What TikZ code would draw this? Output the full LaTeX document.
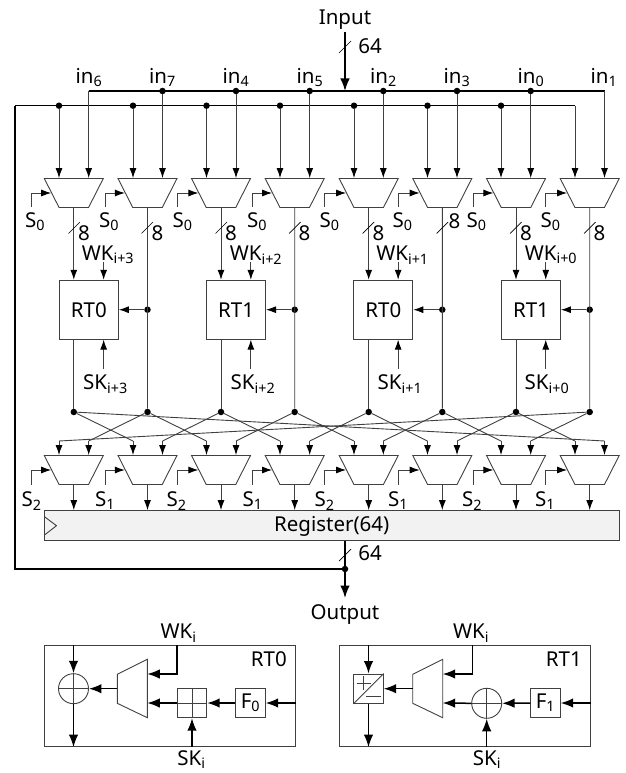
\documentclass[tikz,border=0pt]{standalone}
\usepackage{fontspec}
\setmainfont{Noto Sans}
\usetikzlibrary{arrows.meta, shapes.geometric}
\definecolor{wirecol}{gray}{0.25}
\tikzset{
    wire/.style    = {draw=wirecol, line width=0.9pt, -{Latex[length=10pt, width=7pt, color=black]}},
    plain/.style   = {draw=wirecol, line width=0.9pt},
    bus/.style     = {draw=black, line width=1.5pt},
    busarrow/.style= {bus, -{Latex[length=12.5pt, width=9.5pt]}},
    tick/.style    = {draw=black, line width=0.7pt},
    muxbox/.style  = {trapezium, trapezium stretches=true, trapezium angle=63.43, shape border rotate=180,
                      draw=wirecol, line width=0.9pt, inner sep=0pt, text width=1pt, text height=1pt, text depth=0pt,
                      minimum width=59pt, minimum height=29pt},
    dot/.style     = {circle, fill=black, inner sep=0pt, minimum size=6.5pt},
    rtbox/.style   = {draw=wirecol, line width=0.9pt, minimum width=59pt, minimum height=59pt, font=\fontsize{20.5}{21}\selectfont},
    smallbox/.style= {draw=wirecol, line width=0.9pt, minimum width=29.5pt, minimum height=29.5pt, inner sep=0pt, font=\fontsize{20.5}{21}\selectfont},
    outer/.style   = {draw=wirecol, line width=0.9pt, minimum width=250.7pt, minimum height=101.7pt},
    opcircle/.style= {circle, draw=wirecol, line width=0.9pt, minimum size=30pt, inner sep=0pt},
    beschr/.style  = {font=\fontsize{20.5}{21}\selectfont, inner sep=0pt}
}
\begin{document}
\begin{tikzpicture}[x=1pt, y=-1pt]
    \useasboundingbox (0,0) rectangle (625,773);

    % --- Input ---
    \node[beschr] (input) at (345,19.7) {Input};
    \node[beschr] (w64a) at (370,46) {64};
    \node[beschr] (in6) at (89,77.5) {in\textsubscript{6}};
    \node[beschr] (in7) at (162.5,77.5) {in\textsubscript{7}};
    \node[beschr] (in4) at (236,77.5) {in\textsubscript{4}};
    \node[beschr] (in5) at (310,77.5) {in\textsubscript{5}};
    \node[beschr] (in2) at (383.5,77.5) {in\textsubscript{2}};
    \node[beschr] (in3) at (457,77.5) {in\textsubscript{3}};
    \node[beschr] (in0) at (531,77.5) {in\textsubscript{0}};
    \node[beschr] (in1) at (604,77.5) {in\textsubscript{1}};

    % --- upper multiplexers ---
    \node[muxbox] (m1) at (73.8,193) {};
    \node[muxbox] (m2) at (147.5,193) {};
    \node[muxbox] (m3) at (221,193) {};
    \node[muxbox] (m4) at (294.7,193) {};
    \node[muxbox] (m5) at (368.7,193) {};
    \node[muxbox] (m6) at (442.3,193) {};
    \node[muxbox] (m7) at (516,193) {};
    \node[muxbox] (m8) at (589.7,193) {};

    % --- busses ---
    \coordinate (a0) at (88.7,91);
    \node[dot] (a1) at (162.5,91) {};
    \node[dot] (a2) at (236,91) {};
    \node[dot] (a3) at (309.7,91) {};
    \node[dot] (a4) at (383.3,91) {};
    \node[dot] (a5) at (457,91) {};
    \node[dot] (a6) at (530.7,91) {};
    \coordinate (a7) at (604.5,91);
    \coordinate (ain) at (345,91);
    \node[dot] (f0) at (59,105.7) {};
    \node[dot] (f1) at (133,105.7) {};
    \node[dot] (f2) at (206.5,105.7) {};
    \node[dot] (f3) at (280,105.7) {};
    \node[dot] (f4) at (354,105.7) {};
    \node[dot] (f5) at (427.5,105.7) {};
    \node[dot] (f6) at (501,105.7) {};
    \coordinate (f7) at (575,105.7);
    \coordinate (fl) at (15,105.7);
    \draw[bus] (a0) -- (a7);
    \draw[bus] (fl) -- (f7);
    \draw[busarrow] (input.south) ++(0,2) -- (ain);
    \draw[tick] (339,53) -- (351,41);

    \draw[wire] (f0) -- (f0 |- m1.north);
    \draw[wire] (a0) -- (a0 |- m1.north);
    \draw[wire] (f1) -- (f1 |- m2.north);
    \draw[wire] (a1) -- (a1 |- m2.north);
    \draw[wire] (f2) -- (f2 |- m3.north);
    \draw[wire] (a2) -- (a2 |- m3.north);
    \draw[wire] (f3) -- (f3 |- m4.north);
    \draw[wire] (a3) -- (a3 |- m4.north);
    \draw[wire] (f4) -- (f4 |- m5.north);
    \draw[wire] (a4) -- (a4 |- m5.north);
    \draw[wire] (f5) -- (f5 |- m6.north);
    \draw[wire] (a5) -- (a5 |- m6.north);
    \draw[wire] (f6) -- (f6 |- m7.north);
    \draw[wire] (a6) -- (a6 |- m7.north);
    \draw[wire] (f7) -- (f7 |- m8.north);
    \draw[wire] (a7) -- (a7 |- m8.north);

    % --- select lines, top ---
    \node[beschr] (s1) at (35,222) {S\textsubscript{0}};
    \node[beschr] (s2) at (109,222) {S\textsubscript{0}};
    \node[beschr] (s3) at (182.5,222) {S\textsubscript{0}};
    \node[beschr] (s4) at (257,222) {S\textsubscript{0}};
    \node[beschr] (s5) at (329.5,222) {S\textsubscript{0}};
    \node[beschr] (s6) at (402.5,222) {S\textsubscript{0}};
    \node[beschr] (s7) at (476.5,222) {S\textsubscript{0}};
    \node[beschr] (s8) at (550.5,222) {S\textsubscript{0}};
    \draw[wire] (31,207) |- (m1.west);
    \draw[wire] (105,207) |- (m2.west);
    \draw[wire] (177,207) |- (m3.west);
    \draw[wire] (252,207) |- (m4.west);
    \draw[wire] (324,207) |- (m5.west);
    \draw[wire] (398,207) |- (m6.west);
    \draw[wire] (473,207) |- (m7.west);
    \draw[wire] (545,207) |- (m8.west);

    % --- round functions ---
    \node[rtbox] (r1) at (88.9,309.7) {RT0};
    \node[rtbox] (r2) at (236.1,309.7) {RT1};
    \node[rtbox] (r3) at (383.4,309.7) {RT0};
    \node[rtbox] (r4) at (531,309.7) {RT1};

    % --- lower multiplexers ---
    \node[muxbox] (n1) at (73.8,470) {};
    \node[muxbox] (n2) at (147.5,470) {};
    \node[muxbox] (n3) at (221,470) {};
    \node[muxbox] (n4) at (294.7,470) {};
    \node[muxbox] (n5) at (368.7,470) {};
    \node[muxbox] (n6) at (442.3,470) {};
    \node[muxbox] (n7) at (516,470) {};
    \node[muxbox] (n8) at (589.7,470) {};

    % --- crossing ---
    \node[dot] (c1) at (73.8,412) {};
    \node[dot] (c2) at (147.5,412) {};
    \node[dot] (c3) at (221,412) {};
    \node[dot] (c4) at (294.7,412) {};
    \node[dot] (c5) at (368.7,412) {};
    \node[dot] (c6) at (442.3,412) {};
    \node[dot] (c7) at (516,412) {};
    \node[dot] (c8) at (589.7,412) {};
    \node[dot] (d2) at (147.5,309.7) {};
    \node[dot] (d4) at (294.7,309.7) {};
    \node[dot] (d6) at (442.3,309.7) {};
    \node[dot] (d8) at (589.7,309.7) {};

    \draw[wire] (m1.south) -- (m1.south |- r1.north);
    \draw[wire] (m3.south) -- (m3.south |- r2.north);
    \draw[wire] (m5.south) -- (m5.south |- r3.north);
    \draw[wire] (m7.south) -- (m7.south |- r4.north);
    \draw[plain] (m2.south) -- (c2);
    \draw[plain] (m4.south) -- (c4);
    \draw[plain] (m6.south) -- (c6);
    \draw[plain] (m8.south) -- (c8);
    \draw[wire] (d2) -- (r1.east);
    \draw[wire] (d4) -- (r2.east);
    \draw[wire] (d6) -- (r3.east);
    \draw[wire] (d8) -- (r4.east);
    \draw[plain] (r1.south -| c1) -- (c1);
    \draw[plain] (r2.south -| c3) -- (c3);
    \draw[plain] (r3.south -| c5) -- (c5);
    \draw[plain] (r4.south -| c7) -- (c7);

    % --- width marks and key labels ---
    \node[beschr] (b1) at (84,233) {8};
    \node[beschr] (b2) at (157.5,233) {8};
    \node[beschr] (b3) at (231,233) {8};
    \node[beschr] (b4) at (304.5,233) {8};
    \node[beschr] (b5) at (378.5,233) {8};
    \node[beschr] (b6) at (454.5,221) {8};
    \node[beschr] (b7) at (526,233) {8};
    \node[beschr] (b8) at (599.5,233) {8};
    \draw[tick] (68.5,233.5) -- (80,222);
    \draw[tick] (141.5,233.5) -- (153,222);
    \draw[tick] (215.5,233.5) -- (227,222);
    \draw[tick] (289,233.5) -- (300.5,222);
    \draw[tick] (362.5,233.5) -- (374,222);
    \draw[tick] (436.5,233.5) -- (448,222);
    \draw[tick] (510,233.5) -- (521.5,222);
    \draw[tick] (584,233.5) -- (595.5,222);

    \node[beschr] (wk3) at (108,255) {WK\textsubscript{i+3}};
    \node[beschr] (wk2) at (256,255) {WK\textsubscript{i+2}};
    \node[beschr] (wk1) at (402.5,255) {WK\textsubscript{i+1}};
    \node[beschr] (wk0) at (551,255) {WK\textsubscript{i+0}};
    \node[beschr] (sk3) at (105.5,384) {SK\textsubscript{i+3}};
    \node[beschr] (sk2) at (253,384) {SK\textsubscript{i+2}};
    \node[beschr] (sk1) at (400,384) {SK\textsubscript{i+1}};
    \node[beschr] (sk0) at (547,384) {SK\textsubscript{i+0}};
    \draw[wire] ([xshift=14.75pt]r1.north) ++(0,-18) -- ([xshift=14.75pt]r1.north);
    \draw[wire] ([xshift=14.75pt]r2.north) ++(0,-18) -- ([xshift=14.75pt]r2.north);
    \draw[wire] ([xshift=14.75pt]r3.north) ++(0,-18) -- ([xshift=14.75pt]r3.north);
    \draw[wire] ([xshift=14.75pt]r4.north) ++(0,-18) -- ([xshift=14.75pt]r4.north);
    \draw[wire] ([xshift=14.75pt]r1.south) ++(0,29) -- ([xshift=14.75pt]r1.south);
    \draw[wire] ([xshift=14.75pt]r2.south) ++(0,29) -- ([xshift=14.75pt]r2.south);
    \draw[wire] ([xshift=14.75pt]r3.south) ++(0,29) -- ([xshift=14.75pt]r3.south);
    \draw[wire] ([xshift=14.75pt]r4.south) ++(0,29) -- ([xshift=14.75pt]r4.south);

    \coordinate (e1) at (59,441);
    \coordinate (e2) at (88.7,441);
    \coordinate (e3) at (133,441);
    \coordinate (e4) at (162.5,441);
    \coordinate (e5) at (206.5,441);
    \coordinate (e6) at (236,441);
    \coordinate (e7) at (280,441);
    \coordinate (e8) at (309.7,441);
    \coordinate (e9) at (354,441);
    \coordinate (e10) at (383.3,441);
    \coordinate (e11) at (427.5,441);
    \coordinate (e12) at (457,441);
    \coordinate (e13) at (501,441);
    \coordinate (e14) at (530.7,441);
    \coordinate (e15) at (575,441);
    \coordinate (e16) at (604.5,441);
    \draw[plain] (c8) -- (e1);   \draw[wire] (e1) -- (e1 |- n1.north);
    \draw[plain] (c2) -- (e2);   \draw[wire] (e2) -- (e2 |- n1.north);
    \draw[plain] (c1) -- (e3);   \draw[wire] (e3) -- (e3 |- n2.north);
    \draw[plain] (c3) -- (e4);   \draw[wire] (e4) -- (e4 |- n2.north);
    \draw[plain] (c2) -- (e5);   \draw[wire] (e5) -- (e5 |- n3.north);
    \draw[plain] (c4) -- (e6);   \draw[wire] (e6) -- (e6 |- n3.north);
    \draw[plain] (c3) -- (e7);   \draw[wire] (e7) -- (e7 |- n4.north);
    \draw[plain] (c5) -- (e8);   \draw[wire] (e8) -- (e8 |- n4.north);
    \draw[plain] (c4) -- (e9);   \draw[wire] (e9) -- (e9 |- n5.north);
    \draw[plain] (c6) -- (e10);  \draw[wire] (e10) -- (e10 |- n5.north);
    \draw[plain] (c5) -- (e11);  \draw[wire] (e11) -- (e11 |- n6.north);
    \draw[plain] (c7) -- (e12);  \draw[wire] (e12) -- (e12 |- n6.north);
    \draw[plain] (c6) -- (e13);  \draw[wire] (e13) -- (e13 |- n7.north);
    \draw[plain] (c8) -- (e14);  \draw[wire] (e14) -- (e14 |- n7.north);
    \draw[plain] (c7) -- (e15);  \draw[wire] (e15) -- (e15 |- n8.north);
    \draw[plain] (c1) -- (e16);  \draw[wire] (e16) -- (e16 |- n8.north);

    % --- select lines, bottom ---
    \node[beschr] (t1) at (31.5,501) {S\textsubscript{2}};
    \node[beschr] (t2) at (105,501) {S\textsubscript{1}};
    \node[beschr] (t3) at (176.5,501) {S\textsubscript{2}};
    \node[beschr] (t4) at (252.5,501) {S\textsubscript{1}};
    \node[beschr] (t5) at (324.5,501) {S\textsubscript{2}};
    \node[beschr] (t6) at (398,501) {S\textsubscript{1}};
    \node[beschr] (t7) at (472,501) {S\textsubscript{2}};
    \node[beschr] (t8) at (545,501) {S\textsubscript{1}};
    \draw[wire] (31,484.5) |- (n1.west);
    \draw[wire] (105,484.5) |- (n2.west);
    \draw[wire] (177,484.5) |- (n3.west);
    \draw[wire] (252,484.5) |- (n4.west);
    \draw[wire] (324,484.5) |- (n5.west);
    \draw[wire] (398,484.5) |- (n6.west);
    \draw[wire] (473,484.5) |- (n7.west);
    \draw[wire] (545,484.5) |- (n8.west);

    % --- register ---
    \node[draw=wirecol, line width=0.9pt, fill=black!5, minimum width=574.5pt, minimum height=29.5pt,
          inner sep=0pt, text height=15pt, text depth=3pt, font=\fontsize{20.5}{21}\selectfont] (reg) at (331.7,525.3) {Register(64)};
    \draw[plain] (44.5,516.7) -- (56.5,525.7) -- (44.5,535);
    \draw[wire] (n1.south) -- (n1.south |- reg.north);
    \draw[wire] (n2.south) -- (n2.south |- reg.north);
    \draw[wire] (n3.south) -- (n3.south |- reg.north);
    \draw[wire] (n4.south) -- (n4.south |- reg.north);
    \draw[wire] (n5.south) -- (n5.south |- reg.north);
    \draw[wire] (n6.south) -- (n6.south |- reg.north);
    \draw[wire] (n7.south) -- (n7.south |- reg.north);
    \draw[wire] (n8.south) -- (n8.south |- reg.north);

    % --- output and feedback ---
    \node[beschr] (output) at (345,614.7) {Output};
    \node[beschr] (w64b) at (370,553) {64};
    \node[dot] (o1) at (345,569) {};
    \draw[bus] (ain |- reg.south) -- (o1);
    \draw[busarrow] (o1) -- (345,598);
    \draw[bus] (o1) -- (15,569) -- (fl);
    \draw[tick] (339,561) -- (351,549);

    % --- RT0 detail ---
    \node[outer] (rta) at (169.7,695.8) {};
    \node[beschr, anchor=east] (rtal) at (287,659) {RT0};
    \node[opcircle] (xa) at (73.5,688.7) {};
    \draw[plain] (xa.west) -- (xa.east);
    \draw[plain] (xa.north) -- (xa.south);
    \node[smallbox] (pa) at (192,703) {};
    \draw[plain] (pa.west) -- (pa.east);
    \draw[plain] (pa.north) -- (pa.south);
    \node[smallbox] (fa) at (250.5,703) {F\textsubscript{0}};
    \coordinate (mat) at (147.3,659.3);
    \coordinate (mab) at (147.3,717.7);
    \coordinate (mao) at (117.3,688.7);
    \draw[plain] (117.3,674.3) -- (mat) -- (mab) -- (117.3,703.3) -- cycle;
    \node[beschr] (wka) at (178.5,633) {WK\textsubscript{i}};
    \node[beschr] (ska) at (191.5,759.5) {SK\textsubscript{i}};
    \draw[busarrow] (xa.north |- rta.north) -- (xa.north);
    \draw[busarrow] (xa.south) -- (xa.south |- rta.south);
    \draw[busarrow] (mao) -- (xa.east);
    \draw[busarrow] (177,645) |- (147.3,674);
    \draw[busarrow] (pa.west) -- (147.3,703);
    \draw[busarrow] (fa.west) -- (pa.east);
    \draw[busarrow] (fa.east -| rta.east) -- (fa.east);
    \draw[busarrow] (pa.south |- rta.south) -- (pa.south);

    % --- RT1 detail ---
    \node[outer] (rtb) at (464.7,695.8) {};
    \node[beschr, anchor=east] (rtbl) at (582,659) {RT1};
    \node[smallbox] (sb) at (368.5,688.7) {};
    \draw[plain] (sb.south west) -- (sb.north east);
    \draw[plain] (356.5,683) -- (371,683) (363.7,676) -- (363.7,690);
    \draw[plain] (366,696.7) -- (381,696.7);
    \node[opcircle] (xb) at (486.7,703.3) {};
    \draw[plain] (xb.west) -- (xb.east);
    \draw[plain] (xb.north) -- (xb.south);
    \node[smallbox] (fb) at (545.5,703) {F\textsubscript{1}};
    \coordinate (mbt) at (442.7,659.3);
    \coordinate (mbb) at (442.7,717.7);
    \coordinate (mbo) at (412.7,688.7);
    \draw[plain] (412.7,674.3) -- (mbt) -- (mbb) -- (412.7,703.3) -- cycle;
    \node[beschr] (wkb) at (471,633) {WK\textsubscript{i}};
    \node[beschr] (skb) at (487,759.5) {SK\textsubscript{i}};
    \draw[busarrow] (sb.north |- rtb.north) -- (sb.north);
    \draw[busarrow] (sb.south) -- (sb.south |- rtb.south);
    \draw[busarrow] (mbo) -- (sb.east);
    \draw[busarrow] (472.3,645) |- (442.7,674);
    \draw[busarrow] (xb.west) -- (442.7,703);
    \draw[busarrow] (fb.west) -- (xb.east);
    \draw[busarrow] (fb.east -| rtb.east) -- (fb.east);
    \draw[busarrow] (xb.south |- rtb.south) -- (xb.south);
\end{tikzpicture}
\end{document}
